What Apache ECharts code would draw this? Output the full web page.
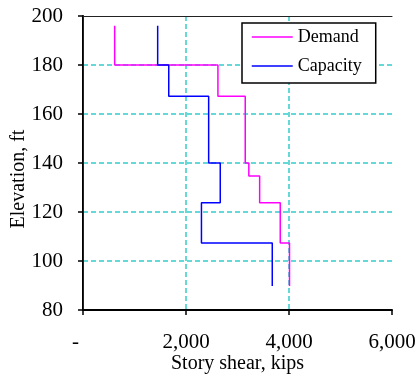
<!DOCTYPE html>
<html>
<head>
<meta charset="utf-8">
<script src="https://cdn.jsdelivr.net/npm/echarts@6/dist/echarts.min.js"></script>
<style>
  html, body { margin: 0; padding: 0; background: #fff; }
  #main { width: 417px; height: 374px; }
</style>
</head>
<body>
<div id="main"></div>
<script>
// story boundaries (ft), top to bottom
var elevations = [196, 180, 167.2, 140, 134.7, 123.8, 107.3, 89.8];
// story shear per story (kips)
var demandShear = [615, 2620, 3150, 3220, 3430, 3830, 4010];
var capacityShear = [1450, 1665, 2440, 2665, 2665, 2300, 3675];

// turn per-story values into a stepped profile
function stepPoints(shears) {
    var pts = [];
    for (var i = 0; i < shears.length; i++) {
        pts.push([shears[i], elevations[i]]);
        pts.push([shears[i], elevations[i + 1]]);
    }
    return pts;
}

var font = 'Liberation Serif';
var gridColor = '#33cccc';

var chart = echarts.init(document.getElementById('main'));

var option = {
    animation: false,
    grid: {
        left: 83,
        right: 25,
        top: 16,
        bottom: 64,
        containLabel: false,
        outerBoundsMode: 'none'
    },
    legend: {
        orient: 'vertical',
        left: 242,
        top: 23,
        padding: [5, 14, 8, 9],
        itemWidth: 41,
        itemHeight: 16,
        itemGap: 11,
        backgroundColor: '#fff',
        borderColor: '#000',
        borderWidth: 1.5,
        borderRadius: 0,
        itemStyle: { opacity: 0 },
        lineStyle: { width: 1.5 },
        textStyle: { fontFamily: font, fontSize: 18, color: '#000', lineHeight: 16 },
        data: ['Demand', 'Capacity']
    },
    xAxis: [
        {
            type: 'value',
            min: 0,
            max: 6000,
            interval: 2000,
            name: 'Story shear, kips',
            nameLocation: 'middle',
            nameGap: 44,
            nameMoveOverlap: false,
            nameTextStyle: { fontFamily: font, fontSize: 20, color: '#000' },
            axisLine: { show: true, lineStyle: { color: '#000', width: 2 } },
            axisTick: { show: true, length: 5, lineStyle: { color: '#000', width: 1.5 } },
            axisLabel: {
                margin: 22,
                fontFamily: font,
                fontSize: 21,
                color: '#000',
                // accounting style: zero shows as a dash
                formatter: function (v) { return v === 0 ? '{z|-}' : v.toLocaleString('en-US'); },
                rich: {
                    z: { fontFamily: font, fontSize: 21, color: '#000', padding: [0, 15, 0, 0] }
                }
            },
            splitLine: {
                show: true,
                showMinLine: false,
                showMaxLine: false,
                lineStyle: { color: gridColor, type: [5, 3], width: 1.5 }
            }
        },
        {
            type: 'value',
            position: 'top',
            min: 0,
            max: 6000,
            axisLine: { show: true, lineStyle: { color: '#222', width: 1 } },
            axisTick: { show: false },
            axisLabel: { show: false },
            splitLine: { show: false }
        }
    ],
    yAxis: [
        {
            type: 'value',
            min: 80,
            max: 200,
            interval: 20,
            name: 'Elevation, ft',
            nameLocation: 'middle',
            nameGap: 54,
            nameMoveOverlap: false,
            nameTextStyle: { fontFamily: font, fontSize: 20, color: '#000', padding: [0, 32, 0, 0] },
            axisLine: { show: true, lineStyle: { color: '#000', width: 2 } },
            axisTick: { show: true, length: 5, lineStyle: { color: '#000', width: 1.5 } },
            axisLabel: { margin: 20, fontFamily: font, fontSize: 21, color: '#000' },
            splitLine: {
                show: true,
                showMinLine: false,
                showMaxLine: false,
                lineStyle: { color: gridColor, type: [5, 3], width: 1.5 }
            }
        },
        {
            type: 'value',
            position: 'right',
            min: 80,
            max: 200,
            axisLine: { show: true, lineStyle: { color: '#222', width: 1 } },
            axisTick: { show: false },
            axisLabel: { show: false },
            splitLine: { show: false }
        }
    ],
    series: [
        {
            name: 'Demand',
            type: 'line',
            symbol: 'none',
            color: '#ff00ff',
            lineStyle: { width: 1.5, color: '#ff00ff' },
            data: stepPoints(demandShear)
        },
        {
            name: 'Capacity',
            type: 'line',
            symbol: 'none',
            color: '#0000ff',
            lineStyle: { width: 1.5, color: '#0000ff' },
            data: stepPoints(capacityShear)
        }
    ]
};

chart.setOption(option);
</script>
</body>
</html>
